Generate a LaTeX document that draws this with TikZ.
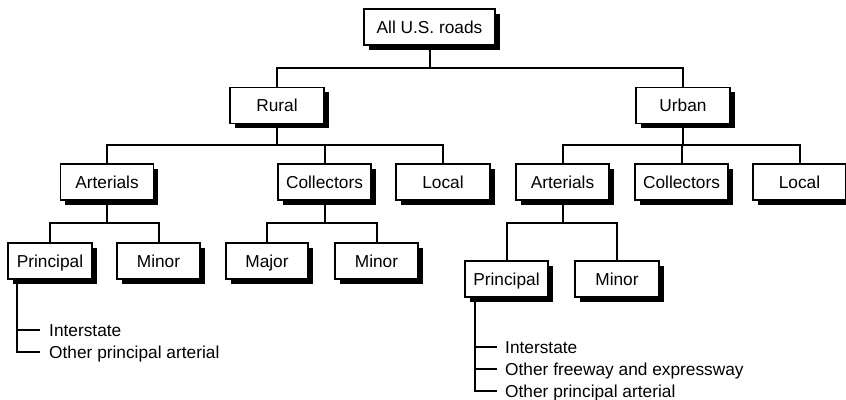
\documentclass[tikz,border=0pt]{standalone}
\usepackage{fontspec}
\setmainfont{Liberation Sans}
\usetikzlibrary{calc}
\usetikzlibrary{shadows}

\begin{document}
\begin{tikzpicture}[x = 1pt, y = -1pt,
    box/.style = {draw, line width = 1.6pt, fill = white, inner sep = 0pt,
        minimum height = 36pt, text height = 12.4pt, text depth = 0pt,
        font = \fontsize{17.3}{20}\selectfont,
        drop shadow = {shadow xshift = 4.5pt, shadow yshift = -4.5pt, fill = black, opacity = 1}},
    link/.style = {line width = 2pt},
    item/.style = {anchor = west, inner sep = 0pt, text height = 12pt, text depth = 0pt,
        font = \fontsize{17.3}{20}\selectfont}]

    \useasboundingbox (0,0) rectangle (846,399);

    \foreach \name/\x/\y/\w/\txt in {all/429.5/27/131/All U.S. roads,
                                    rural/277/105.5/94/Rural,
                                    urban/683/105.5/94/Urban,
                                    rart/107/182/93/Arterials,
                                    rcol/324.5/182/93/Collectors,
                                    rloc/443/182/94/Local,
                                    uart/562.5/182/93/Arterials,
                                    ucol/681.5/182/93/Collectors,
                                    uloc/799.5/182/93/Local,
                                    rpri/50/261/84/Principal,
                                    rmin/158.5/261/83/Minor,
                                    rmaj/267/261/82/Major,
                                    rmintwo/376.5/261/83/Minor,
                                    upri/506.5/279/83/Principal,
                                    umin/617/279/84/Minor}{
        \node[box, minimum width = \w pt] (\name) at (\x,\y) {\txt};
    }

    \foreach \p/\c/\bus in {all/rural/68, all/urban/68,
                            rural/rart/145, rural/rcol/145, rural/rloc/145,
                            urban/uart/145, urban/ucol/145, urban/uloc/145,
                            rart/rpri/223, rart/rmin/223,
                            rcol/rmaj/223, rcol/rmintwo/223,
                            uart/upri/223, uart/umin/223}{
        \draw[link] (\p) -- (\p |- 0,\bus) -| (\c);
    }

    % rural principal arterials
    \coordinate (rstem) at ($(rpri.south west)+(10,0)$);
    \node[item] (rint) at (49,330) {Interstate};
    \node[item] (roth) at (49,352) {Other principal arterial};
    \draw[link] (rstem) |- ($(roth.west)+(-9,0)$);
    \draw[link] (rstem |- rint.west) -- ($(rint.west)+(-9,0)$);

    % urban principal arterials
    \coordinate (ustem) at ($(upri.south west)+(11,0)$);
    \node[item] (uint) at (505,347) {Interstate};
    \node[item] (ufwy) at (505,369) {Other freeway and expressway};
    \node[item] (uoth) at (505,391) {Other principal arterial};
    \draw[link] (ustem) |- ($(uoth.west)+(-8,0)$);
    \foreach \t in {uint, ufwy}{
        \draw[link] (ustem |- \t.west) -- ($(\t.west)+(-8,0)$);
    }

\end{tikzpicture}
\end{document}
